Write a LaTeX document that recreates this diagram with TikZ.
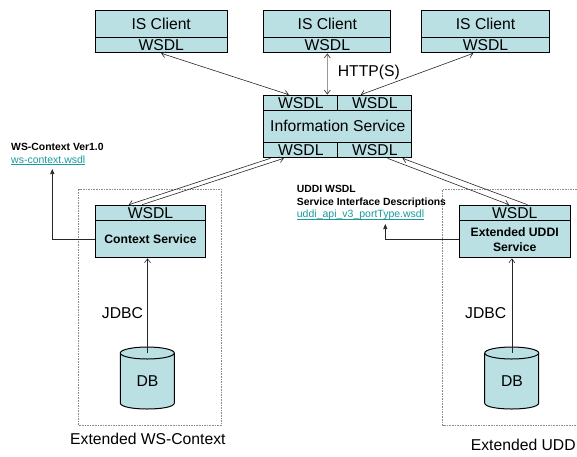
\documentclass[tikz,border=0pt]{standalone}
\usepackage{fontspec}
\setmainfont{Liberation Sans}
\usetikzlibrary{arrows.meta}
\definecolor{boxfill}{HTML}{BBE0E3}
\definecolor{linkcol}{HTML}{1A9A9A}
\definecolor{dashcol}{HTML}{8C8C8C}
\newcommand\dbcyl[3]{%
  \fill[boxfill] ({#1-27},#2) -- ({#1-27},#3) .. controls ({#1-27},{#3+8}) and ({#1+27},{#3+8}) .. ({#1+27},#3) -- ({#1+27},#2) -- cycle;
  \draw[dbline] ({#1-27},#2) -- ({#1-27},#3) .. controls ({#1-27},{#3+8}) and ({#1+27},{#3+8}) .. ({#1+27},#3) -- ({#1+27},#2);
  \draw[dbline, fill=boxfill] (#1,#2) ellipse [x radius=27pt, y radius=6pt];
}
\begin{document}
\begin{tikzpicture}[x=1pt,y=-1pt,
  bigfont/.style={font=\fontsize{15.7}{18}\selectfont},
  box/.style={draw=black, line width=1pt, fill=boxfill, inner sep=0pt, anchor=north west, bigfont},
  boldbox/.style={box, font=\bfseries\fontsize{12.2}{15}\selectfont, align=center},
  dbline/.style={draw=black, line width=1pt},
  conn/.style={draw=black!85, line width=0.6pt},
  biarrow/.style={conn, {Straight Barb[length=4pt,width=6pt]}-{Straight Barb[length=4pt,width=6pt]}},
  onearrow/.style={conn, -{Straight Barb[length=4pt,width=6pt]}},
  midarrow/.style={draw=black!40, line width=1.4pt, {Straight Barb[length=4pt,width=6pt,color=black!70,line width=0.8pt]}-{Straight Barb[length=4pt,width=6pt,color=black!70,line width=0.8pt]}},
  fillarrow/.style={conn, -{Triangle[length=5pt,width=4pt]}},
  dashbox/.style={draw=dashcol, line width=0.7pt, dash pattern=on 1.6pt off 1pt},
  bigtext/.style={bigfont, inner sep=0pt, anchor=base west},
  smallbold/.style={font=\bfseries\fontsize{10.4}{12}\selectfont, inner sep=0pt, anchor=base west},
  smalllink/.style={font=\fontsize{10.5}{12}\selectfont, text=linkcol, inner sep=0pt, anchor=base west}
]
\useasboundingbox (0,0) rectangle (577,456);

% dashed containers
\draw[dashbox] (78.7,189.3) rectangle (221.3,425.3);
\draw[dashbox] (577,189.3) -- (442.7,189.3) -- (442.7,425.3) -- (577,425.3);

% IS clients
\node[box, minimum width=132pt, minimum height=26.7pt] (c1) at (94.7,10) {IS Client};
\node[box, minimum width=132pt, minimum height=15.6pt] (c1w) at (94.7,36.7) {WSDL};
\node[box, minimum width=127pt, minimum height=26.7pt] (c2) at (263.3,10) {IS Client};
\node[box, minimum width=127pt, minimum height=15.6pt] (c2w) at (263.3,36.7) {WSDL};
\node[box, minimum width=127.4pt, minimum height=26.7pt] (c3) at (421.3,10) {IS Client};
\node[box, minimum width=127.4pt, minimum height=15.6pt] (c3w) at (421.3,36.7) {WSDL};

% Information service
\node[box, minimum width=74pt, minimum height=15.3pt] (iw1) at (263.3,94.7) {WSDL};
\node[box, minimum width=74pt, minimum height=15.3pt] (iw2) at (337.3,94.7) {WSDL};
\node[box, minimum width=148pt, minimum height=31.7pt] (is) at (263.3,110) {Information Service};
\node[box, minimum width=74pt, minimum height=15.6pt] (iw3) at (263.3,141.7) {WSDL};
\node[box, minimum width=74pt, minimum height=15.6pt] (iw4) at (337.3,141.7) {WSDL};

% Context service
\node[box, minimum width=110.6pt, minimum height=15.3pt] (csw) at (94.7,204.7) {WSDL};
\node[boldbox, minimum width=110.6pt, minimum height=37.3pt] (cs) at (94.7,220) {Context Service};

% Extended UDDI service
\node[box, minimum width=111pt, minimum height=15.3pt] (uw) at (458.7,204.7) {WSDL};
\node[boldbox, minimum width=111pt, minimum height=37.3pt] (us) at (458.7,220) {Extended UDDI\\Service};

% databases
\dbcyl{147.3}{353}{403}
\dbcyl{511.7}{353}{403}
\node[inner sep=0pt, minimum width=54pt, minimum height=56pt, anchor=north west, bigfont] (db1) at (120.3,353) {DB};
\node[inner sep=0pt, minimum width=54pt, minimum height=56pt, anchor=north west, bigfont] (db2) at (484.7,353) {DB};

% text labels
\node[bigtext] (http) at (337.7,76.6) {HTTP(S)};
\node[bigtext] (j1) at (101.7,318.3) {JDBC};
\node[bigtext] (j2) at (465,318.3) {JDBC};
\node[bigtext] (lbl1) at (70,444) {Extended WS-Context};
\node[bigtext] (lbl2) at (470.7,450.3) {Extended UDD};
\node[smallbold] (wsv) at (11,150.7) {WS-Context Ver1.0};
\node[smalllink] (wsl) at (11,163) {\underline{\smash{ws-context.wsdl}}};
\node[smallbold] (ud1) at (296.7,192.6) {UDDI WSDL};
\node[smallbold] (ud2) at (296.7,205.2) {Service Interface Descriptions};
\node[smalllink] (ud3) at (296.7,217.5) {\underline{\smash{uddi\_api\_v3\_portType.wsdl}}};

% connectors: clients <-> information service
\draw[biarrow] (c1w.south) -- ([xshift=-12pt]iw1.north);
\draw[midarrow] (c2w.south) -- (c2w.south |- iw1.north);
\draw[biarrow] ([xshift=-12.3pt]c3w.south) -- ([xshift=-14pt]iw2.north);

% information service <-> services
\draw[onearrow] ([xshift=-30.3pt]iw3.south) -- ([xshift=-21.7pt]csw.north);
\draw[onearrow] ([xshift=-8.4pt]csw.north) -- ([xshift=-17pt]iw3.south);
\draw[onearrow] ([xshift=12.7pt]iw4.south) -- ([xshift=-5.7pt]uw.north);
\draw[onearrow] ([xshift=12.8pt]uw.north) -- ([xshift=27.7pt]iw4.south);

% JDBC
\draw[onearrow] (db1.north) -- (db1.north |- cs.south);
\draw[onearrow] (db2.north) -- (db2.north |- us.south);

% wsdl descriptions
\coordinate (wstip) at (52.3,169);
\draw[fillarrow] (cs.west) -| (wstip);
\coordinate (utip) at (385.3,224);
\draw[fillarrow] (us.west) -| (utip);
\end{tikzpicture}
\end{document}
